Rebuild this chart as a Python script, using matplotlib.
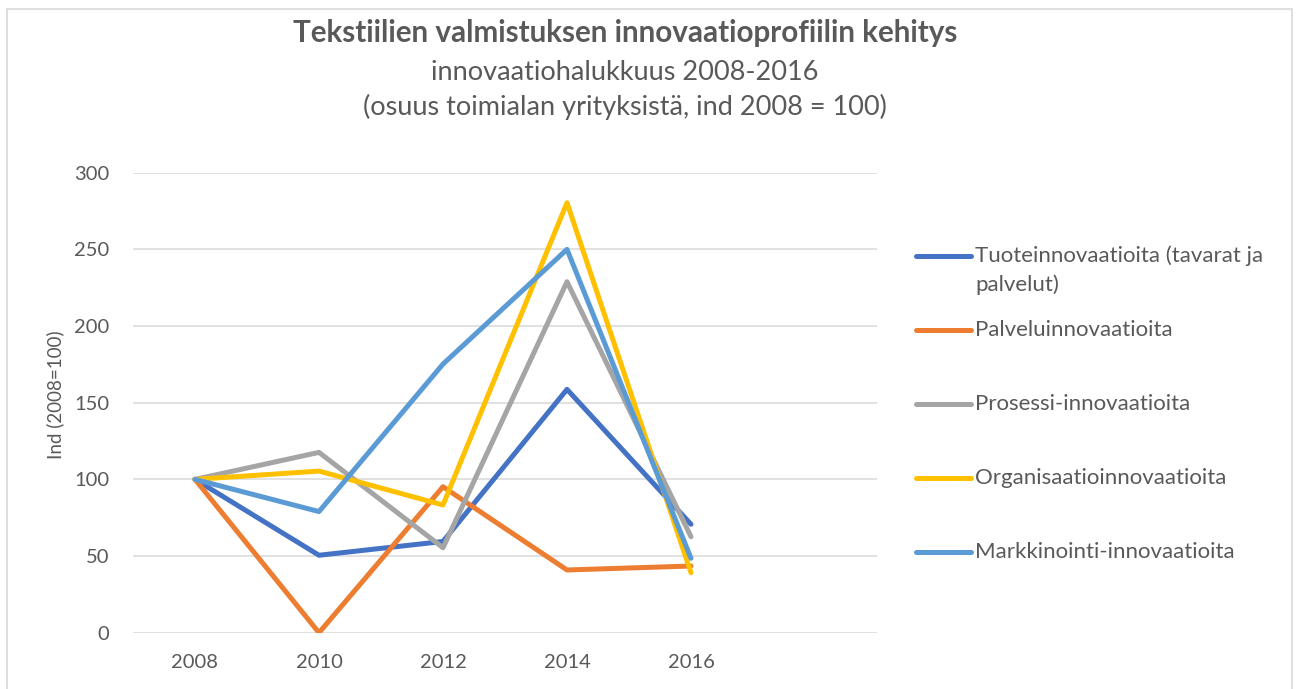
import matplotlib
matplotlib.use("Agg")
import matplotlib.pyplot as plt
from matplotlib.lines import Line2D
from matplotlib.patches import Rectangle

plt.rcParams['font.family'] = ['Lato', 'DejaVu Sans']

# ---- data ----
years = ["2008", "2010", "2012", "2014", "2016"]
series_names = [
    "Tuoteinnovaatioita (tavarat ja\npalvelut)",
    "Palveluinnovaatioita",
    "Prosessi-innovaatioita",
    "Organisaatioinnovaatioita",
    "Markkinointi-innovaatioita",
]
tuote = [100, 50.5, 59.5, 158.7, 70.7]
palvelu = [100, 0, 95.2, 40.9, 43.5]
prosessi = [100, 117.6, 55.4, 228.9, 62.6]
organisaatio = [100, 105.4, 83.3, 280.4, 39.1]
markkinointi = [100, 79.0, 175.2, 250.0, 48.5]
values = [tuote, palvelu, prosessi, organisaatio, markkinointi]
colors = ["#4472C4", "#ED7D31", "#A5A5A5", "#FFC000", "#5B9BD5"]

title = "Tekstiilien valmistuksen innovaatioprofiilin kehitys"
subtitle1 = "innovaatiohalukkuus 2008-2016"
subtitle2 = "(osuus toimialan yrityksistä, ind 2008 = 100)"
ylabel = "Ind (2008=100)"
yticks = [0, 50, 100, 150, 200, 250, 300]

W, H = 1298, 689
TXT = "#595959"
GRID = "#D9D9D9"

fig = plt.figure(figsize=(W / 100, H / 100), dpi=100)
fig.patch.set_facecolor("white")

# outer chart border
fig.add_artist(Rectangle((7 / W, -0.02), (1292 - 7) / W, (H - 8.5) / H + 0.02,
                         transform=fig.transFigure, fill=False,
                         edgecolor=GRID, lw=1.2))

ax_l, ax_r, ax_t, ax_b = 133, 877, 172.7, 632.7
ax = fig.add_axes([ax_l / W, (H - ax_b) / H, (ax_r - ax_l) / W, (ax_b - ax_t) / H])

x = list(range(len(years)))
for vals, c in zip(values, colors):
    ax.plot(x, vals, color=c, lw=3.6, solid_capstyle="round",
            solid_joinstyle="round", zorder=3)

ax.set_xlim(-0.5, 5.5)
ax.set_ylim(0, 300)
ax.set_xticks(x)
ax.set_xticklabels(years)
ax.set_yticks(yticks)
ax.tick_params(axis="both", length=0, labelsize=14.5, labelcolor=TXT)
ax.tick_params(axis="x", pad=15)
ax.tick_params(axis="y", pad=17)
ax.grid(axis="y", color=GRID, lw=1.1)
ax.set_axisbelow(True)
for s in ax.spines.values():
    s.set_visible(False)

ax.set_ylabel(ylabel, fontsize=13.5, color=TXT)
ax.yaxis.set_label_coords((64 - ax_l) / (ax_r - ax_l), (ax_b - 395) / (ax_b - ax_t))

# titles
cx = 625 / W
fig.text(cx, 1 - 33 / H, title, ha="center", va="center", fontsize=21.3,
         fontweight="bold", color=TXT)
fig.text(cx, 1 - 72 / H, subtitle1, ha="center", va="center", fontsize=19.5, color=TXT)
fig.text(cx, 1 - 107 / H, subtitle2, ha="center", va="center", fontsize=19.5, color=TXT)

# legend (manual, Excel-like)
leg_y0, leg_dy, line_h = 256, 74, 29
for i, (name, c) in enumerate(zip(series_names, colors)):
    yc = leg_y0 + i * leg_dy
    fig.add_artist(Line2D([916 / W, 971 / W], [1 - yc / H, 1 - yc / H],
                          transform=fig.transFigure, color=c, lw=3.6,
                          solid_capstyle="round"))
    for j, part in enumerate(name.split("\n")):
        fig.text(975 / W, 1 - (yc + j * line_h) / H, part, ha="left",
                 va="center", fontsize=16, color=TXT)

fig.savefig("out.png", dpi=100)
